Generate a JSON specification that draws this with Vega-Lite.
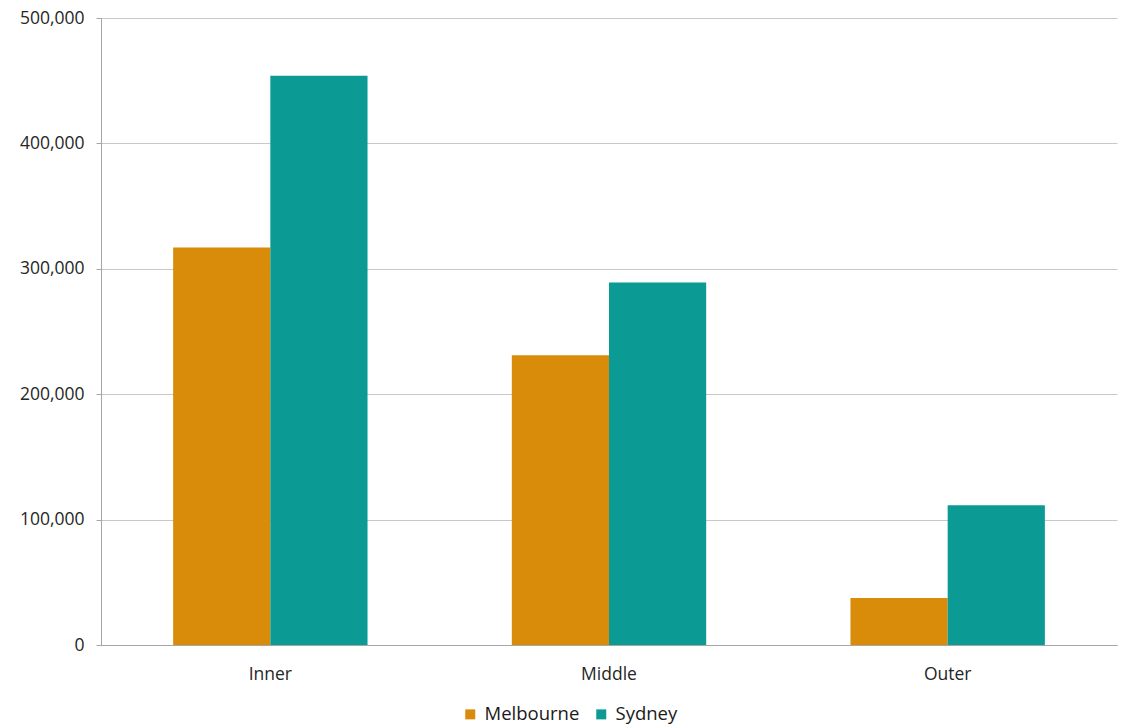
{
  "$schema": "https://vega.github.io/schema/vega-lite/v6.json",
  "autosize": "none",
  "width": 1016,
  "height": 627,
  "padding": {"left": 101, "top": 18, "right": 12, "bottom": 81},
  "background": "white",
  "config": {
    "view": {"stroke": null},
    "font": "Open Sans",
    "axis": {"labelFont": "Open Sans", "labelFontSize": 17.5, "labelColor": "#262626", "domainColor": "#a6a6a6", "gridColor": "#c8c8c8", "tickColor": "#a6a6a6"}
  },
  "data": {
    "values": [
      {"zone": "Inner", "city": "Melbourne", "value": 317000},
      {"zone": "Inner", "city": "Sydney", "value": 454000},
      {"zone": "Middle", "city": "Melbourne", "value": 231000},
      {"zone": "Middle", "city": "Sydney", "value": 289000},
      {"zone": "Outer", "city": "Melbourne", "value": 37500},
      {"zone": "Outer", "city": "Sydney", "value": 111500}
    ]
  },
  "mark": {"type": "bar"},
  "encoding": {
    "x": {
      "field": "zone", "type": "nominal", "sort": ["Inner", "Middle", "Outer"],
      "scale": {"paddingInner": 0.426, "paddingOuter": 0.213},
      "axis": {"title": null, "labelAngle": 0, "ticks": false, "labelPadding": 20, "domain": true}
    },
    "xOffset": {"field": "city", "type": "nominal", "sort": ["Melbourne", "Sydney"], "scale": {"paddingInner": 0, "paddingOuter": 0}},
    "y": {
      "field": "value", "type": "quantitative",
      "scale": {"domain": [0, 500000], "nice": false},
      "axis": {"title": null, "values": [0, 100000, 200000, 300000, 400000, 500000], "format": ",d", "grid": true, "tickSize": 5, "labelPadding": 12, "domain": true}
    },
    "color": {
      "field": "city", "type": "nominal",
      "scale": {"domain": ["Melbourne", "Sydney"], "range": ["#D98B0A", "#0C9A94"]},
      "legend": {"title": null, "orient": "none", "legendX": 360, "legendY": 687, "direction": "horizontal", "symbolType": "square", "symbolSize": 100, "labelFontSize": 18.5, "labelFont": "Open Sans", "labelColor": "#1a1a1a", "columnPadding": 12, "labelOffset": 5, "symbolStrokeWidth": 0}
    }
  }
}
